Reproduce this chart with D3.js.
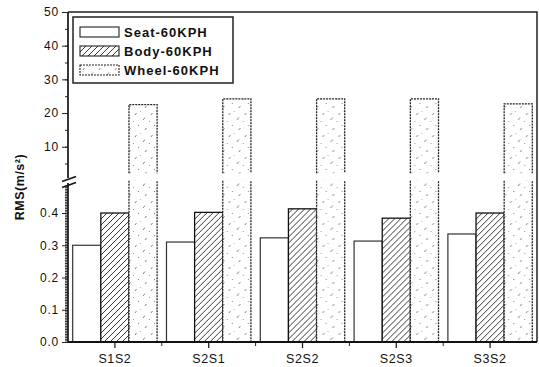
<!DOCTYPE html>
<html>
<head>
<meta charset="utf-8">
<script src="https://cdn.jsdelivr.net/npm/d3@7"></script>
<style>
  body { margin: 0; background: #fff; }
  text { font-family: "Liberation Sans", Arial, sans-serif; fill: #111; }
</style>
</head>
<body>
<div id="chart"></div>
<script>
// values (RMS, m/s^2)
const categories = ["S1S2", "S2S1", "S2S2", "S2S3", "S3S2"];
const seatValues = [0.30, 0.31, 0.323, 0.313, 0.335];
const bodyValues = [0.40, 0.402, 0.413, 0.384, 0.40];
const wheelValues = [22.5, 24.2, 24.2, 24.2, 22.7];
const seriesNames = ["Seat-60KPH", "Body-60KPH", "Wheel-60KPH"];
const upperTicks = [10, 20, 30, 40, 50];
const lowerTicks = [0.0, 0.1, 0.2, 0.3, 0.4];

const width = 539, height = 367;
const plotLeft = 68, plotRight = 537, plotTop = 12, plotBottom = 342;
const breakTop = 177, breakBottom = 184;

const svg = d3.select("#chart").append("svg")
  .attr("width", width)
  .attr("height", height);

const defs = svg.append("defs");

// diagonal hatch for Body
const hatch = defs.append("pattern")
  .attr("id", "hatch")
  .attr("patternUnits", "userSpaceOnUse")
  .attr("width", 6)
  .attr("height", 6);
hatch.append("rect").attr("width", 6).attr("height", 6).attr("fill", "#fff");
hatch.append("path")
  .attr("d", "M0,6 L6,0 M-1,1 L1,-1 M5,7 L7,5")
  .attr("stroke", "#222")
  .attr("stroke-width", 0.9);

// sparse speckle for Wheel
const speck = defs.append("pattern")
  .attr("id", "speck")
  .attr("patternUnits", "userSpaceOnUse")
  .attr("width", 16)
  .attr("height", 22);
speck.append("rect").attr("width", 16).attr("height", 22).attr("fill", "#fff");
speck.append("path")
  .attr("d", "M3,5 l1.5,-2 M11,10 l2,-2.5 M6,16 l1,-1 M13,20 l1.5,-2 M1,12 l0.8,-0.8 M8,2 l0.6,-0.6")
  .attr("stroke", "#666")
  .attr("stroke-width", 0.8);

const x0 = d3.scaleBand()
  .domain(categories)
  .range([plotLeft, plotRight])
  .padding(0);

const x1 = d3.scaleBand()
  .domain(seriesNames)
  .range([x0.step() * 0.05, x0.step() * 0.95])
  .padding(0);

const yUp = d3.scaleLinear().domain([1, 50]).range([breakTop, plotTop]);
const yLow = d3.scaleLinear().domain([0, 0.49]).range([plotBottom, breakBottom]);

const rows = categories.map((c, i) => ({
  cat: c, seat: seatValues[i], body: bodyValues[i], wheel: wheelValues[i]
}));

const groups = svg.append("g").selectAll("g")
  .data(rows)
  .enter().append("g")
  .attr("transform", d => `translate(${x0(d.cat)},0)`);

// Seat bars
groups.append("rect")
  .attr("x", x1(seriesNames[0]))
  .attr("width", x1.bandwidth())
  .attr("y", d => yLow(d.seat))
  .attr("height", d => yLow(0) - yLow(d.seat))
  .attr("fill", "#fff")
  .attr("stroke", "#333")
  .attr("stroke-width", 1.2);

// Body bars
groups.append("rect")
  .attr("x", x1(seriesNames[1]))
  .attr("width", x1.bandwidth())
  .attr("y", d => yLow(d.body))
  .attr("height", d => yLow(0) - yLow(d.body))
  .attr("fill", "url(#hatch)")
  .attr("stroke", "#111")
  .attr("stroke-width", 1.3);

// Wheel bars: lower piece up to the break, upper piece above it, open at the break
const wx = x1(seriesNames[2]), ww = x1.bandwidth();
const lowCut = yLow(0.5), upCut = yUp(2.1);

groups.append("rect")
  .attr("x", wx)
  .attr("width", ww)
  .attr("y", lowCut)
  .attr("height", yLow(0) - lowCut)
  .attr("fill", "url(#speck)");
groups.append("path")
  .attr("d", `M${wx},${lowCut}V${yLow(0)}H${wx + ww}V${lowCut}`)
  .attr("fill", "none")
  .attr("stroke", "#222")
  .attr("stroke-width", 1.3)
  .attr("stroke-dasharray", "2,1");

groups.append("rect")
  .attr("x", wx)
  .attr("width", ww)
  .attr("y", d => yUp(d.wheel))
  .attr("height", d => upCut - yUp(d.wheel))
  .attr("fill", "url(#speck)");
groups.append("path")
  .attr("d", d => `M${wx},${upCut}V${yUp(d.wheel)}H${wx + ww}V${upCut}`)
  .attr("fill", "none")
  .attr("stroke", "#222")
  .attr("stroke-width", 1.3)
  .attr("stroke-dasharray", "2,1");

// frame top and right
svg.append("path")
  .attr("d", `M${plotLeft},${plotTop}H${plotRight}V${plotBottom}`)
  .attr("fill", "none")
  .attr("stroke", "#222")
  .attr("stroke-width", 1.5);

// y axes
const axisUp = svg.append("g").attr("transform", `translate(${plotLeft},0)`);
axisUp.call(d3.axisLeft(yUp).tickValues(d3.range(5, 51, 5)).tickSize(3).tickFormat(""))
  .call(g => g.select(".domain").remove());
axisUp.append("g")
  .call(d3.axisLeft(yUp).tickValues(upperTicks).tickSize(6).tickPadding(3).tickFormat(d3.format("d")))
  .call(g => g.select(".domain").remove());

const axisLow = svg.append("g").attr("transform", `translate(${plotLeft},0)`);
axisLow.call(d3.axisLeft(yLow).tickValues(d3.range(0, 0.4851, 0.005)).tickSize(3).tickFormat(""))
  .call(g => g.select(".domain").remove());
axisLow.append("g")
  .call(d3.axisLeft(yLow).tickValues(lowerTicks).tickSize(6).tickPadding(3).tickFormat(d3.format(".1f")))
  .call(g => g.select(".domain").remove());

svg.selectAll(".tick line").attr("stroke", "#222").attr("stroke-width", 1);
svg.selectAll(".tick text")
  .style("font-size", "12px")
  .style("letter-spacing", "0.8px")
  .attr("fill", "#111");

// left axis line, broken
svg.append("line")
  .attr("x1", plotLeft).attr("x2", plotLeft)
  .attr("y1", plotTop).attr("y2", breakTop + 1)
  .attr("stroke", "#222").attr("stroke-width", 1.8);
svg.append("line")
  .attr("x1", plotLeft).attr("x2", plotLeft)
  .attr("y1", breakBottom - 1).attr("y2", plotBottom)
  .attr("stroke", "#222").attr("stroke-width", 1.8);

// break marks
[breakTop + 2, breakBottom + 1].forEach(yb => {
  svg.append("line")
    .attr("x1", plotLeft - 6).attr("y1", yb + 2.5)
    .attr("x2", plotLeft + 8).attr("y2", yb - 2.5)
    .attr("stroke", "#111")
    .attr("stroke-width", 1.5);
});

// x axis
const xAxis = svg.append("g").attr("transform", `translate(0,${plotBottom})`);
xAxis.append("g")
  .call(d3.axisBottom(x0).tickSize(6).tickPadding(6))
  .call(g => g.select(".domain").remove())
  .call(g => g.selectAll("text")
    .style("font-size", "12.5px")
    .style("letter-spacing", "0.6px")
    .attr("fill", "#111"))
  .call(g => g.selectAll("line").attr("stroke", "#222").attr("stroke-width", 1.3));

const boundaries = categories.slice(1).map(c => x0(c));
xAxis.selectAll("line.minor")
  .data(boundaries)
  .enter().append("line")
  .attr("class", "minor")
  .attr("x1", d => d).attr("x2", d => d)
  .attr("y1", 0).attr("y2", 4)
  .attr("stroke", "#222");

xAxis.append("line")
  .attr("x1", plotLeft).attr("x2", plotRight)
  .attr("stroke", "#111")
  .attr("stroke-width", 2);

// y label
svg.append("text")
  .attr("transform", "translate(24,187) rotate(-90)")
  .attr("text-anchor", "middle")
  .style("font-size", "12.5px")
  .style("font-weight", "bold")
  .style("letter-spacing", "0.5px")
  .text("RMS(m/s²)");

// legend
const legend = svg.append("g").attr("transform", "translate(73,17)");
legend.append("rect")
  .attr("width", 160)
  .attr("height", 66)
  .attr("fill", "#fff")
  .attr("stroke", "#222")
  .attr("stroke-width", 1.5);

const fills = ["#fff", "url(#hatch)", "url(#speck)"];
const items = legend.selectAll("g.item")
  .data(seriesNames)
  .enter().append("g")
  .attr("class", "item")
  .attr("transform", (d, i) => `translate(7,${10 + i * 19})`);

items.append("rect")
  .attr("width", 39)
  .attr("height", 10)
  .attr("fill", (d, i) => fills[i])
  .attr("stroke", "#222")
  .attr("stroke-width", 1.1)
  .attr("stroke-dasharray", (d, i) => i === 2 ? "2,1" : null);

items.append("text")
  .attr("x", 44)
  .attr("y", 9.5)
  .style("font-size", "13px")
  .style("font-weight", "bold")
  .style("letter-spacing", "1px")
  .text(d => d);
</script>
</body>
</html>
